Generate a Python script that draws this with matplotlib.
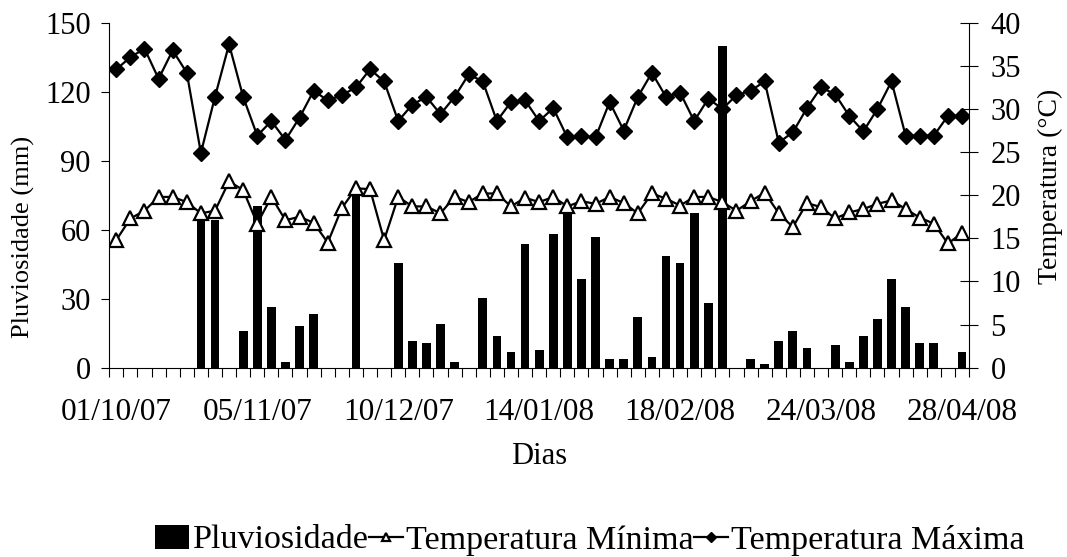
# -*- coding: utf-8 -*-
"""
Pluviosidade e temperaturas - out/2007 a abr/2008
"""

import numpy as np
import matplotlib
matplotlib.use('Agg')
import matplotlib.pyplot as plt

plt.rcParams['font.family'] = ['Liberation Serif', 'DejaVu Serif']

########################################################### DADOS ###############################################################

# rótulos do eixo x (um a cada 10 leituras)
datas = ['01/10/07', '05/11/07', '10/12/07', '14/01/08', '18/02/08', '24/03/08', '28/04/08']

# pluviosidade (mm)
pluviosidade = [0, 0, 0, 0, 0, 0, 65, 64.2, 0, 16,
                70.3, 26.3, 2.6, 18.1, 23.3, 0, 0, 76.5, 0, 0,
                45.7, 11.7, 10.9, 19.0, 2.6, 0, 30.4, 13.8, 6.7, 53.9,
                7.7, 58.0, 68.9, 38.5, 57.0, 3.6, 3.6, 22.0, 4.6, 48.7,
                45.7, 67.4, 28.3, 140.0, 0, 3.6, 1.6, 11.7, 16.0, 8.7,
                0, 9.9, 2.6, 13.9, 21.0, 38.6, 26.3, 10.9, 10.9, 0,
                6.7]

# temperatura mínima (°C)
temp_min = [14.8, 17.3, 18.2, 19.8, 19.8, 19.2, 17.9, 18.2, 21.6, 20.6,
            16.7, 19.8, 17.1, 17.5, 16.8, 14.5, 18.5, 20.8, 20.7, 14.8,
            19.8, 18.7, 18.7, 17.9, 19.8, 19.2, 20.2, 20.2, 18.7, 19.7,
            19.2, 19.8, 18.7, 19.3, 19.0, 19.8, 19.1, 17.9, 20.2, 19.6,
            18.8, 19.8, 19.8, 19.2, 18.2, 19.3, 20.3, 17.9, 16.3, 19.1,
            18.6, 17.3, 18.0, 18.4, 19.0, 19.4, 18.4, 17.4, 16.7, 14.4,
            15.6]

# temperatura máxima (°C)
temp_max = [34.6, 36.0, 37.0, 33.5, 36.8, 34.2, 24.9, 31.4, 37.5, 31.4,
            26.9, 28.6, 26.4, 29.0, 32.1, 31.0, 31.6, 32.5, 34.6, 33.2,
            28.6, 30.5, 31.4, 29.4, 31.4, 34.0, 33.2, 28.6, 30.8, 31.0,
            28.6, 30.1, 26.7, 26.9, 26.7, 30.8, 27.5, 31.4, 34.2, 31.4,
            31.9, 28.6, 31.2, 30.0, 31.6, 32.1, 33.2, 26.1, 27.3, 30.1,
            32.5, 31.7, 29.2, 27.4, 30.0, 33.2, 26.9, 26.9, 26.9, 29.2,
            29.2]

x = np.arange(len(pluviosidade))

########################################################### GRAFICO ###############################################################

fig = plt.figure(figsize=(10.67, 5.57), dpi=100)
fig.subplots_adjust(left=0.1024, right=0.9082, bottom=0.3399, top=0.9592)
ax = fig.add_subplot(111)

bars = ax.bar(x, pluviosidade, width=0.62, color='black', label='Pluviosidade')
ax.set_ylim(0, 150)
ax.set_yticks([0, 30, 60, 90, 120, 150])
ax.set_xlim(-0.5, len(x) - 0.5)

# eixo x tipo categoria: marcas entre as categorias, rotulos a cada 10
ax.set_xticks(x[::10])
ax.set_xticklabels(datas)
ax.set_xticks(np.arange(-0.5, len(x), 1), minor=True)
ax.tick_params(axis='x', which='major', length=0, pad=22, labelsize=22.5)
ax.tick_params(axis='x', which='minor', direction='out', length=6.5, width=0.8)
ax.tick_params(axis='y', direction='out', length=5.5, width=0.8, pad=8, labelsize=22)
ax.spines['top'].set_visible(False)
ax.spines['right'].set_visible(False)

ax2 = ax.twinx()
l1, = ax2.plot(x, temp_min, '-', color='black', lw=1.6, marker='^', ms=10,
               mfc='white', mec='black', mew=1.6, label='Temperatura Mínima')
l2, = ax2.plot(x, temp_max, '-', color='black', lw=1.6, marker='D', ms=8,
               mfc='black', mec='black', label='Temperatura Máxima')
ax2.set_ylim(0, 40)
ax2.set_yticks(range(0, 45, 5))
ax2.tick_params(axis='y', direction='inout', length=13, width=0.8, pad=9, labelsize=22)
ax2.spines['top'].set_visible(False)
ax2.spines['left'].set_visible(False)
ax2.spines['bottom'].set_visible(False)

fig.text(23 / 1067, 1 - 236.7 / 557, 'Pluviosidade (mm)', rotation=90,
         ha='center', va='center', fontsize=19)
fig.text(1050 / 1067, 1 - 186 / 557, 'Temperatura (°C)', rotation=90,
         ha='center', va='center', fontsize=20)
fig.text(539 / 1067, 1 - 457 / 557, 'Dias', ha='center', va='center', fontsize=22)

fig.legend([bars, l1, l2], ['Pluviosidade', 'Temperatura Mínima', 'Temperatura Máxima'],
           loc='center', bbox_to_anchor=(590 / 1067, 1 - 540 / 557), ncol=3,
           frameon=False, fontsize=24.5, handlelength=1.0, handletextpad=0.1,
           columnspacing=0.0, markerscale=0.6)

plt.savefig('out.png', dpi=100)
